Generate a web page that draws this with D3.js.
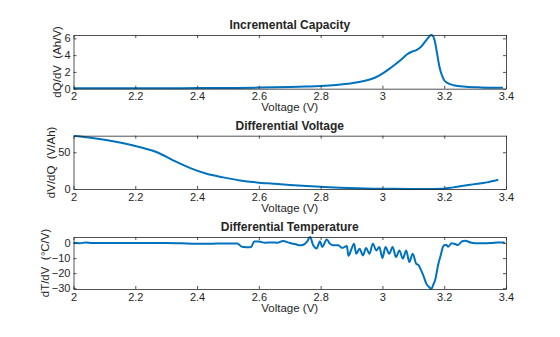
<!DOCTYPE html>
<html>
<head>
<meta charset="utf-8">
<script src="https://cdn.jsdelivr.net/npm/d3@7"></script>
<style>
  body { margin: 0; background: #fff; }
  svg { display: block; font-family: "Liberation Sans", Arial, sans-serif; }
</style>
</head>
<body>
<div id="chart"></div>
<script>
// --- datos ---
const xTicks = [2, 2.2, 2.4, 2.6, 2.8, 3, 3.2, 3.4];

const icVolt = [2.0,2.1,2.2,2.3,2.4,2.5,2.6,2.65,2.7,2.75,2.8,2.85,2.9,2.925,2.95,2.975,3.0,3.02,3.045,3.065,3.08,3.095,3.11,3.125,3.14,3.15,3.157,3.163,3.17,3.176,3.182,3.188,3.195,3.2,3.21,3.23,3.27,3.32,3.39];
const icVals = [0.05,0.05,0.05,0.06,0.07,0.09,0.13,0.16,0.2,0.26,0.33,0.45,0.65,0.8,1.0,1.3,1.8,2.3,3.0,3.6,4.1,4.4,4.6,5.0,5.7,6.15,6.4,6.3,5.6,4.4,3.1,2.1,1.4,1.0,0.7,0.42,0.24,0.15,0.1];
const icTicks = [0, 2, 4, 6];

const dvVolt = [2.0,2.05,2.1,2.162,2.216,2.27,2.324,2.378,2.431,2.485,2.539,2.593,2.647,2.7,2.755,2.81,2.863,2.92,2.97,3.03,3.1,3.16,3.195,3.208,3.23,3.251,3.294,3.338,3.375];
const dvVals = [72.5,70,67,62.2,56.8,50,38.7,28.4,20.7,15.8,11.7,9,7.2,5.5,4,2.8,1.8,1.0,0.5,0.2,0.1,0.1,0.2,1,2.2,3.6,6.3,9,12.6];
const dvTicks = [0, 50];

const dtVolt = [2.0,2.02,2.04,2.06,2.1,2.15,2.2,2.25,2.3,2.35,2.4,2.45,2.5,2.53,2.545,2.56,2.575,2.585,2.6,2.62,2.64,2.66,2.678,2.7,2.72,2.733,2.744,2.756,2.766,2.776,2.787,2.798,2.805,2.82,2.83,2.84,2.857,2.87,2.885,2.89,2.9,2.908,2.915,2.926,2.937,2.947,2.958,2.969,2.98,2.99,3.0,3.01,3.022,3.033,3.044,3.055,3.066,3.077,3.087,3.098,3.109,3.117,3.125,3.134,3.142,3.15,3.158,3.164,3.172,3.18,3.189,3.196,3.202,3.207,3.213,3.224,3.235,3.245,3.256,3.267,3.288,3.31,3.331,3.355,3.374,3.396];
const dtVals = [0.2,-0.1,0.3,0,0.1,0,0.1,0,0.1,-0.2,-0.5,-0.4,-0.3,-0.3,-2.5,-2.8,-2.6,1.0,1.0,0.2,0.4,0.2,1.3,0,-0.8,-1.5,-1.1,1.0,4.0,-1.5,-3.6,1.1,-2.6,2.4,-0.4,-1.5,-1.5,-3.3,-2,-8.6,-3.8,-0.4,-7.1,-3.8,-8.2,-3.3,-7.1,-0.4,-4.9,-2.6,-9.9,-2.6,-7.1,-2.6,-9.3,-4.9,-10.4,-4.9,-12.6,-7.1,-13.6,-14.7,-18,-22.4,-26.9,-29,-30.5,-28,-23.5,-14.7,-8,-2.4,-1.3,-1.3,-2.4,-0.2,-0.7,-1.3,0.9,1.5,0.2,-0.2,-0.2,0.1,0.4,0.4];
const dtTicks = [-30, -20, -10, 0];

const paneles = [
  { titulo: "Incremental Capacity", ylabel: "dQ/dV  (Ah/V)", volt: icVolt, vals: icVals, yDom: [0, 6.4], ticks: icTicks, top: 35, bottom: 88.7, curva: d3.curveMonotoneX },
  { titulo: "Differential Voltage", ylabel: "dV/dQ  (V/Ah)", volt: dvVolt, vals: dvVals, yDom: [0, 72.5], ticks: dvTicks, top: 135.7, bottom: 189, curva: d3.curveMonotoneX },
  { titulo: "Differential Temperature", ylabel: "dT/dV  (\u00B0C/V)", volt: dtVolt, vals: dtVals, yDom: [-30.5, 4], ticks: dtTicks, top: 237, bottom: 289, curva: d3.curveMonotoneX }
];

const width = 560, height = 337;
const left = 73.5, right = 506;
const ink = "#262626";

const svg = d3.select("#chart").append("svg")
  .attr("width", width)
  .attr("height", height);

const x = d3.scaleLinear().domain([2, 3.4]).range([left, right]);

paneles.forEach(p => {
  const y = d3.scaleLinear().domain(p.yDom).range([p.bottom, p.top]);
  const g = svg.append("g");

  // línea de datos (recortada a la caja)
  const clipId = "clip-" + p.top;
  g.append("clipPath").attr("id", clipId)
    .append("rect")
    .attr("x", left).attr("y", p.top - 1)
    .attr("width", right - left).attr("height", p.bottom - p.top + 2);

  const pts = p.volt.map((v, i) => [v, p.vals[i]]);
  g.append("path")
    .datum(pts)
    .attr("clip-path", `url(#${clipId})`)
    .attr("fill", "none")
    .attr("stroke", "#0072BD")
    .attr("stroke-width", 2)
    .attr("stroke-linejoin", "round")
    .attr("d", d3.line().x(d => x(d[0])).y(d => y(d[1])).curve(p.curva));

  // ejes (ticks hacia dentro, caja completa)
  const fmt = d3.format("~g");
  const ejes = [
    [d3.axisBottom(x).tickValues(xTicks).tickFormat(fmt).tickPadding(4), `translate(0,${p.bottom})`],
    [d3.axisTop(x).tickValues(xTicks).tickFormat(""), `translate(0,${p.top})`],
    [d3.axisLeft(y).tickValues(p.ticks).tickFormat(fmt).tickPadding(3), `translate(${left},0)`],
    [d3.axisRight(y).tickValues(p.ticks).tickFormat(""), `translate(${right},0)`]
  ];
  let ejeIzq = null;
  ejes.forEach(([ax, tr], i) => {
    const a = g.append("g")
      .attr("transform", tr)
      .call(ax.tickSizeInner(-3).tickSizeOuter(0));
    a.select(".domain").attr("stroke", ink).attr("stroke-width", 0.8);
    a.selectAll(".tick line").attr("stroke", ink).attr("stroke-width", 0.8);
    a.selectAll(".tick text").attr("fill", ink).attr("font-size", 11)
      .attr("font-family", "Liberation Sans, Arial, sans-serif");
    if (i === 2) ejeIzq = a;
  });

  // textos
  g.append("text")
    .attr("x", (left + right) / 2)
    .attr("y", p.top - 6)
    .attr("text-anchor", "middle")
    .attr("font-size", 12)
    .attr("font-weight", "bold")
    .attr("fill", ink)
    .text(p.titulo);

  g.append("text")
    .attr("x", (left + right) / 2)
    .attr("y", p.bottom + 22.5)
    .attr("text-anchor", "middle")
    .attr("font-size", 11.5)
    .attr("fill", ink)
    .text("Voltage (V)");

  // etiqueta Y a la izquierda de las marcas
  let minX = left - 10;
  ejeIzq.selectAll(".tick text").each(function () {
    const b = this.getBBox();
    minX = Math.min(minX, left + b.x);
  });
  g.append("text")
    .attr("transform", `translate(${minX - 3},${(p.top + p.bottom) / 2}) rotate(-90)`)
    .attr("text-anchor", "middle")
    .attr("font-size", 11.5)
    .attr("fill", ink)
    .style("white-space", "pre")
    .text(p.ylabel);
});
</script>
</body>
</html>
